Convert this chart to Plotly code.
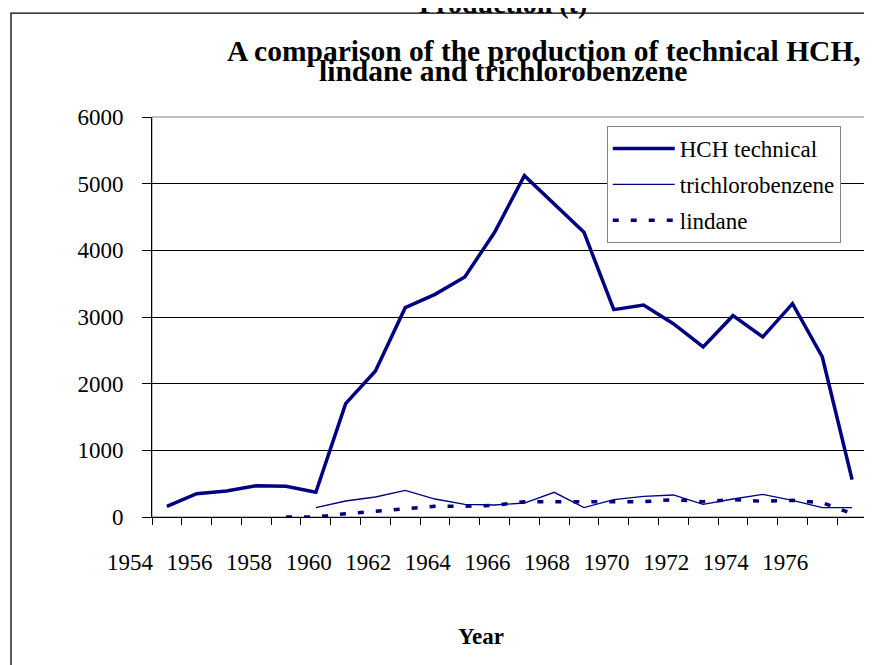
import plotly.graph_objects as go

# ---- data ----
years = list(range(1954, 1978))
hch_technical = [160, 350, 390, 470, 460, 370, 1700, 2190, 3140, 3340, 3600, 4270,
                 5120, 4700, 4270, 3110, 3180, 2900, 2550, 3020, 2700, 3200, 2400, 560]
trichlorobenzene = [None, None, None, None, None, 140, 240, 300, 400, 270, 190, 180,
                    210, 370, 140, 260, 310, 330, 190, 270, 340, 250, 140, 140]
lindane = [None, None, None, None, 0, 0, 50, 90, 125, 160, 160, 175,
           230, 230, 230, 230, 230, 260, 230, 260, 235, 250, 215, 50]
tick_years = list(range(1954, 1977, 2))
y_ticks = [0, 1000, 2000, 3000, 4000, 5000, 6000]

NAVY = "#000080"
FONT = "Liberation Serif"

fig = go.Figure()
fig.add_trace(go.Scatter(x=years, y=hch_technical, mode="lines", name="HCH technical",
                         legendgroup="a",
                         line=dict(color=NAVY, width=3.5)))
fig.add_trace(go.Scatter(x=years, y=trichlorobenzene, mode="lines", name="trichlorobenzene",
                         legendgroup="b",
                         line=dict(color=NAVY, width=1.3)))
fig.add_trace(go.Scatter(x=years, y=lindane, mode="lines", name="lindane",
                         legendgroup="c",
                         line=dict(color=NAVY, width=3.5, dash="6px,12px")))

boundaries = [y - 0.5 for y in years] + [years[-1] + 0.5]

fig.update_layout(
    width=872, height=665,
    margin=dict(l=144, r=13, t=109, b=156, autoexpand=False),
    paper_bgcolor="white", plot_bgcolor="white",
    font=dict(family=FONT, size=23, color="black"),
    showlegend=True,
    legend=dict(x=0.636, y=0.9775, xanchor="left", yanchor="top",
                bgcolor="white", bordercolor="#808080", borderwidth=1,
                font=dict(family=FONT, size=23, color="black"),
                itemwidth=62, tracegroupgap=3, traceorder="grouped"),
    xaxis=dict(range=[years[0] - 0.5, years[-1] + 0.5],
               tickmode="array", tickvals=tick_years,
               ticks="outside", ticklen=0, ticklabelshift=-37, ticklabelstandoff=24,
               showgrid=False, zeroline=False,
               showline=True, linecolor="black", linewidth=1,
               tickfont=dict(family=FONT, size=23, color="black"),
               minor=dict(tickmode="array", tickvals=boundaries, ticks="outside",
                          ticklen=7, tickcolor="black", tickwidth=1, showgrid=False)),
    yaxis=dict(range=[0, 6000], tickmode="array", tickvals=y_ticks,
               ticks="outside", ticklen=9, tickcolor="black",
               ticklabelstandoff=14,
               showgrid=True, gridcolor="black", gridwidth=1,
               zeroline=False, showline=True, linecolor="black", linewidth=1,
               tickfont=dict(family=FONT, size=23, color="black")),
    shapes=[
        dict(type="rect", xref="paper", yref="paper", x0=0, x1=1, y0=0, y1=1,
             line=dict(color="#808080", width=1), layer="below"),
        dict(type="rect", xref="paper", yref="paper", x0=-0.1972, x1=1.05, y0=-0.5, y1=1.2597,
             line=dict(color="black", width=1.3), layer="above"),
    ],
    annotations=[
        dict(text="<b>Production (t)</b>", xref="paper", yref="paper", x=0.491, y=1.284,
             xanchor="center", yanchor="middle", showarrow=False,
             font=dict(family=FONT, size=28, color="black")),
        dict(text="<b>A comparison of the production of technical HCH,</b>", xref="paper",
             yref="paper", x=0.548, y=1.164, xanchor="center", yanchor="middle",
             showarrow=False, font=dict(family=FONT, size=29.5, color="black")),
        dict(text="<b>lindane and trichlorobenzene</b>", xref="paper", yref="paper",
             x=0.491, y=1.115, xanchor="center", yanchor="middle", showarrow=False,
             font=dict(family=FONT, size=29.5, color="black")),
        dict(text="<b>Year</b>", xref="paper", yref="paper", x=0.46, y=-0.298,
             xanchor="center", yanchor="middle", showarrow=False,
             font=dict(family=FONT, size=23, color="black")),
    ],
)

fig.write_html("out.html")
